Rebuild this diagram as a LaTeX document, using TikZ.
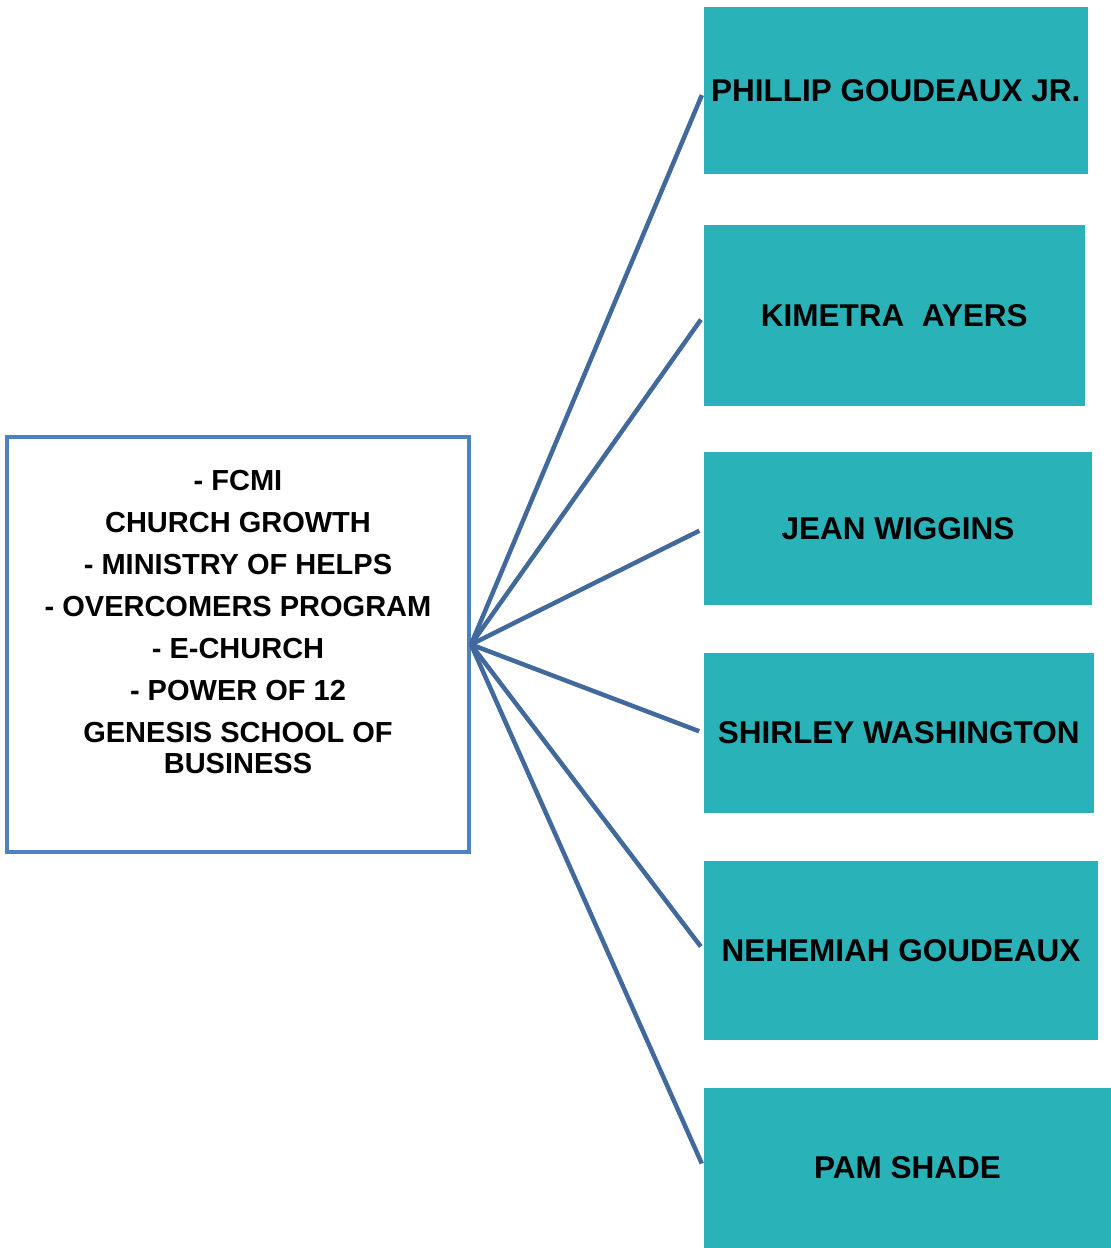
\documentclass[tikz,border=0pt]{standalone}
\usepackage{fontspec}
\setmainfont{Liberation Sans}
\definecolor{tealbox}{RGB}{42,178,185}
\definecolor{mainborder}{RGB}{79,129,189}
\definecolor{linkcol}{RGB}{65,105,155}
\begin{document}
\begin{tikzpicture}[x=1pt,y=-1pt,
  namebox/.style={rectangle, fill=tealbox, draw=none, inner sep=0pt,
    font=\fontsize{31.5}{36}\selectfont\bfseries, text=black},
  mainbox/.style={rectangle, draw=mainborder, line width=4pt, fill=white, inner sep=0pt},
  maintext/.style={align=center, inner sep=0pt, font=\fontsize{29}{30.7}\selectfont\bfseries},
  link/.style={draw=linkcol, line width=4.5pt, shorten >=5pt}]
\useasboundingbox (0,0) rectangle (1111,1248);
\node[mainbox, minimum width=462.5pt, minimum height=415pt] (main) at (237.75,644.5) {};
\node[maintext, anchor=north] (mt) at (238,470.5) {- FCMI\\[11.3pt]
CHURCH GROWTH\\[11.3pt]
- MINISTRY OF HELPS\\[11.3pt]
- OVERCOMERS PROGRAM\\[11.3pt]
- E-CHURCH\\[11.3pt]
- POWER OF 12\\[11.3pt]
GENESIS SCHOOL OF\\
BUSINESS};
\node[namebox, minimum width=383.5pt, minimum height=167pt] (b1) at (895.75,90.5) {PHILLIP GOUDEAUX JR.};
\node[namebox, minimum width=380.5pt, minimum height=181pt] (b2) at (894.25,315.5) {KIMETRA\ \ AYERS};
\node[namebox, minimum width=388pt, minimum height=153pt] (b3) at (898,528.5) {JEAN WIGGINS};
\node[namebox, minimum width=389.5pt, minimum height=160.5pt] (b4) at (898.75,733) {SHIRLEY WASHINGTON};
\node[namebox, minimum width=394pt, minimum height=179pt] (b5) at (901,950.5) {NEHEMIAH GOUDEAUX};
\node[namebox, minimum width=407pt, minimum height=160pt] (b6) at (907.5,1168) {PAM SHADE};
\foreach \b in {b1,b2,b3,b4,b5,b6}{
  \draw[link] (main.east) -- (\b.west);
}
\end{tikzpicture}
\end{document}
